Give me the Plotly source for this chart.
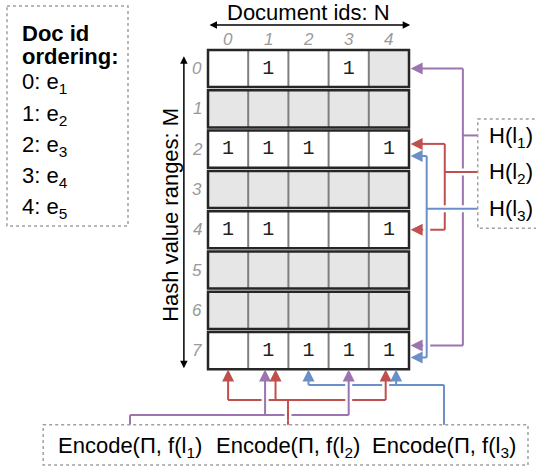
import plotly.graph_objects as go

# ---------------- data ----------------
doc_ids = [0, 1, 2, 3, 4]
hash_ranges = [0, 1, 2, 3, 4, 5, 6, 7]
# 1 = bit set, 0 = empty white cell, None = shaded (unused) cell
bitmap = [
    [0, 1, 0, 1, None],
    [None, None, None, None, None],
    [1, 1, 1, 0, 1],
    [None, None, None, None, None],
    [1, 1, 0, 0, 1],
    [None, None, None, None, None],
    [None, None, None, None, None],
    [0, 1, 1, 1, 1],
]
doc_order_ids = ["0", "1", "2", "3", "4"]
doc_order_names = ["e<sub>1</sub>", "e<sub>2</sub>", "e<sub>3</sub>", "e<sub>4</sub>", "e<sub>5</sub>"]
hash_labels = ["H(l<sub>1</sub>)", "H(l<sub>2</sub>)", "H(l<sub>3</sub>)"]
hash_targets = [[0, 7], [2, 4], [2, 7]]          # rows hit by each H(l_i)
encode_labels = ["Encode(Π, f(l<sub>1</sub>)", "Encode(Π, f(l<sub>2</sub>)", "Encode(Π, f(l<sub>3</sub>)"]
encode_targets = [[1, 3], [0, 1, 4], [2, 4]]     # columns hit by each Encode
colors = ["#9b74b0", "#c0504d", "#6b8fc9"]

# ---------------- layout constants (cell units) ----------------
FONT = "Liberation Sans, Arial, Helvetica, sans-serif"
FS = 22
UX, UY = 40.2, 40.3
X0PX, Y0PX = 208, 50
W, H = 536, 470
ROW_H = 0.92
GRAY = "#e6e6e6"

fig = go.Figure()
shapes = []
ann = []

# grid cells
for r, row in enumerate(bitmap):
    for c, v in enumerate(row):
        shapes.append(dict(type="rect", xref="x", yref="y", x0=c, x1=c + 1, y0=r, y1=r + ROW_H,
                           fillcolor=GRAY if v is None else "white", line=dict(width=0), layer="below"))
    for c in range(1, len(row)):
        shapes.append(dict(type="line", xref="x", yref="y", x0=c, x1=c, y0=r, y1=r + ROW_H,
                           line=dict(color="#7f7f7f", width=2), layer="below"))
    shapes.append(dict(type="rect", xref="x", yref="y", x0=0, x1=len(row), y0=r, y1=r + ROW_H,
                       line=dict(color="#262626", width=2.5), fillcolor="rgba(0,0,0,0)", layer="below"))

# the "1" entries
tx, ty = [], []
for r, row in enumerate(bitmap):
    for c, v in enumerate(row):
        if v == 1:
            tx.append(c + 0.5)
            ty.append(r + ROW_H / 2)
fig.add_trace(go.Scatter(x=tx, y=ty, mode="text", text=["1"] * len(tx),
                         textfont=dict(family="Liberation Mono, Courier New, monospace", size=20, color="#222"),
                         hoverinfo="skip", showlegend=False))

# column / row index labels
for c in doc_ids:
    ann.append(dict(x=c + 0.5, y=-0.25, text="<i>%d</i>" % c, showarrow=False,
                    font=dict(family=FONT, size=17, color="#9a9a9a"), xanchor="center", yanchor="middle"))
for r in hash_ranges:
    ann.append(dict(x=-0.27, y=r + ROW_H / 2, text="<i>%d</i>" % r, showarrow=False,
                    font=dict(family=FONT, size=17, color="#9a9a9a"), xanchor="center", yanchor="middle"))

# axis titles and double arrows
ann.append(dict(x=2.51, y=-0.94, text="Document ids: N", showarrow=False,
                font=dict(family=FONT, size=FS, color="black")))
ann.append(dict(x=5.03, y=-0.62, ax=0, ay=-0.62, axref="x", ayref="y", text="", showarrow=True,
                arrowhead=2, arrowside="end+start", arrowwidth=1.5, arrowsize=1, arrowcolor="black", standoff=0, startstandoff=0))
ann.append(dict(x=-0.93, y=4.1, text="Hash value ranges: M", showarrow=False, textangle=-90,
                font=dict(family=FONT, size=FS, color="black")))
ann.append(dict(x=-0.60, y=7.9, ax=-0.60, ay=0.12, axref="x", ayref="y", text="", showarrow=True,
                arrowhead=2, arrowside="end+start", arrowwidth=1.5, arrowsize=1, arrowcolor="black", standoff=0, startstandoff=0))

# left legend box
shapes.append(dict(type="rect", xref="x", yref="y", x0=-5.0, x1=-1.99, y0=-1.09, y1=4.37,
                   line=dict(color="#a0a0a0", width=1.5, dash="dot"), layer="above"))
ann.append(dict(x=-4.68, y=-0.42, text="<b>Doc id</b>", showarrow=False, xanchor="left",
                font=dict(family=FONT, size=FS, color="black")))
ann.append(dict(x=-4.68, y=0.17, text="<b>ordering:</b>", showarrow=False, xanchor="left",
                font=dict(family=FONT, size=FS, color="black")))
for i, (d, e) in enumerate(zip(doc_order_ids, doc_order_names)):
    ann.append(dict(x=-4.68, y=0.83 + 0.775 * i, text=f"{d}: {e}", showarrow=False, xanchor="left",
                    font=dict(family=FONT, size=FS, color="black")))

# right hash-label box
shapes.append(dict(type="rect", xref="x", yref="y", x0=6.71, x1=8.4, y0=1.71, y1=4.42,
                   line=dict(color="#a0a0a0", width=1.5, dash="dot"), layer="above"))
lab_y = [2.12 + 0.91 * i for i in range(3)]
for i, lab in enumerate(hash_labels):
    ann.append(dict(x=6.93, y=lab_y[i] + 0.03, text=lab, showarrow=False, xanchor="left",
                    font=dict(family=FONT, size=FS, color="black")))

# bottom encode box
shapes.append(dict(type="rect", xref="x", yref="y", x0=-4.1, x1=7.96, y0=9.3, y1=10.3,
                   line=dict(color="#a0a0a0", width=1.5, dash="dot"), layer="above"))
enc_x = [-1.94, 1.99, 5.87]
for i, lab in enumerate(encode_labels):
    ann.append(dict(x=enc_x[i], y=9.85, text=lab, showarrow=False,
                    font=dict(family=FONT, size=FS, color="black")))

# ---------------- connectors ----------------
def row_slot(r, i):
    users = [k for k, t in enumerate(hash_targets) if r in t]
    if len(users) == 1:
        return r + ROW_H / 2
    return r + [0.33, 0.63][users.index(i)]


def col_slot(c, i):
    users = [k for k, t in enumerate(encode_targets) if c in t]
    if len(users) == 1:
        return c + 0.5
    return c + [0.42, 0.68][users.index(i)]


TIP_X = 5.04
chan_x = [6.34 - 0.45 * i for i in range(3)]
TIP_Y = 7.93
chan_y = [9.06 - 0.375 * i for i in range(3)]
BOX_TOP = 9.3
BOX_RIGHT_L = 6.71


def right_path(i):
    xs, ys = [], []
    ysl = [row_slot(r, i) for r in hash_targets[i]]
    xs += [BOX_RIGHT_L, chan_x[i], None]
    ys += [lab_y[i], lab_y[i], None]
    xs += [chan_x[i], chan_x[i], None]
    ys += [min(ysl), max(ysl), None]
    for y in ysl:
        xs += [chan_x[i], TIP_X + 0.15, None]
        ys += [y, y, None]
    return xs, ys, ysl


def bottom_path(i):
    xs, ys = [], []
    xsl = [col_slot(c, i) for c in encode_targets[i]]
    lo, hi = min(xsl + [enc_x[i]]), max(xsl + [enc_x[i]])
    xs += [lo, hi, None]
    ys += [chan_y[i], chan_y[i], None]
    xs += [enc_x[i], enc_x[i], None]
    ys += [BOX_TOP, chan_y[i], None]
    for x in xsl:
        xs += [x, x, None]
        ys += [chan_y[i], TIP_Y + 0.15, None]
    return xs, ys, xsl


def add_line(xs, ys, color, halo=True):
    if halo:
        fig.add_trace(go.Scatter(x=xs, y=ys, mode="lines", line=dict(color="white", width=7),
                                 hoverinfo="skip", showlegend=False))
    fig.add_trace(go.Scatter(x=xs, y=ys, mode="lines", line=dict(color=color, width=2),
                             hoverinfo="skip", showlegend=False))


def arrow_left(y, color):
    ann.append(dict(x=TIP_X, y=y, ax=10, ay=0, text="", showarrow=True, arrowhead=2, arrowsize=1.2,
                    arrowwidth=2, arrowcolor=color, standoff=0))


def arrow_up(x, color):
    ann.append(dict(x=x, y=TIP_Y, ax=0, ay=10, text="", showarrow=True, arrowhead=2, arrowsize=1.2,
                    arrowwidth=2, arrowcolor=color, standoff=0))


rp = [right_path(i) for i in range(3)]
bp = [bottom_path(i) for i in range(3)]
# drawing order chosen to reproduce the crossing gaps
add_line(rp[0][0], rp[0][1], colors[0], halo=False)
add_line(bp[2][0], bp[2][1], colors[2], halo=False)
add_line(rp[1][0], rp[1][1], colors[1])
add_line(bp[1][0], bp[1][1], colors[1])
add_line(rp[2][0], rp[2][1], colors[2])
add_line(bp[0][0], bp[0][1], colors[0])
# red stem passes over the purple bus
add_line([enc_x[1], enc_x[1]], [chan_y[0] + 0.13, chan_y[0] - 0.13], colors[1])

for i in range(3):
    for y in rp[i][2]:
        arrow_left(y, colors[i])
    for x in bp[i][2]:
        arrow_up(x, colors[i])

fig.update_layout(
    width=W, height=H, autosize=False,
    margin=dict(l=0, r=0, t=0, b=0),
    paper_bgcolor="white", plot_bgcolor="white",
    xaxis=dict(range=[-X0PX / UX, (W - X0PX) / UX], visible=False, fixedrange=True),
    yaxis=dict(range=[(H - Y0PX) / UY, -Y0PX / UY], visible=False, fixedrange=True),
    shapes=shapes, annotations=ann, showlegend=False,
)
fig.write_html("out.html", config={"displayModeBar": False},
               post_script="document.body.style.margin='0px';document.body.style.overflow='hidden';")
